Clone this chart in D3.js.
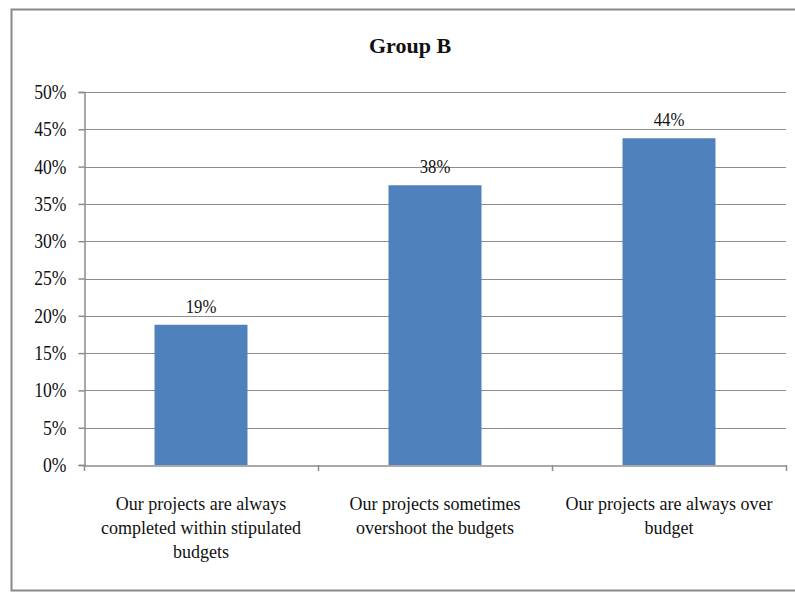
<!DOCTYPE html>
<html>
<head>
<meta charset="utf-8">
<script src="https://cdn.jsdelivr.net/npm/d3@7"></script>
<style>
  body { margin: 0; background: #fff; }
</style>
</head>
<body>
<svg id="chart" width="795" height="592"></svg>
<script>
// data
const categories = [
  "Our projects are always completed within stipulated budgets",
  "Our projects sometimes overshoot the budgets",
  "Our projects are always over budget"
];
const categoryLines = [
  ["Our projects are always", "completed within stipulated", "budgets"],
  ["Our projects sometimes", "overshoot the budgets"],
  ["Our projects are always over", "budget"]
];
const values = [18.8, 37.5, 43.8];
const valueLabels = ["19%", "38%", "44%"];
const yTicks = [0, 5, 10, 15, 20, 25, 30, 35, 40, 45, 50];

const FONT = "'Liberation Serif', 'Times New Roman', Times, 'DejaVu Serif', serif";

const svg = d3.select("#chart");
const width = +svg.attr("width");
const height = +svg.attr("height");

const padding = { top: 92, right: 9, bottom: 127, left: 84 };

// outer frame
svg.append("rect")
  .attr("x", 11.5)
  .attr("y", 9.5)
  .attr("width", 800)
  .attr("height", 581)
  .attr("fill", "none")
  .attr("stroke", "#8a8a8a")
  .attr("stroke-width", 2);

svg.append("text")
  .attr("x", 410)
  .attr("y", 53)
  .attr("text-anchor", "middle")
  .attr("font-family", FONT)
  .attr("font-size", "22px")
  .attr("font-weight", "bold")
  .attr("fill", "#111")
  .text("Group B");

var xBand = d3.scaleBand()
  .domain(categories)
  .range([padding.left, width - padding.right]);

var yScale = d3.scaleLinear()
  .domain([0, 50])
  .range([height - padding.bottom, padding.top]);

// gridlines
svg.append("g")
  .selectAll("line")
  .data(yTicks.filter(d => d > 0))
  .enter()
  .append("line")
  .attr("x1", padding.left)
  .attr("x2", width - padding.right)
  .attr("y1", d => Math.round(yScale(d)) + 0.5)
  .attr("y2", d => Math.round(yScale(d)) + 0.5)
  .attr("stroke", "#8c8c8c")
  .attr("stroke-width", 1.2);

// bars
svg.append("g")
  .selectAll("rect")
  .data(values)
  .enter()
  .append("rect")
  .attr("x", (d, i) => xBand(categories[i]) + xBand.bandwidth() / 2 - 46.5)
  .attr("y", d => yScale(d))
  .attr("width", 93)
  .attr("height", d => yScale(0) - yScale(d))
  .attr("fill", "#4f81bd");

// value labels
svg.append("g")
  .selectAll("text")
  .data(values)
  .enter()
  .append("text")
  .attr("transform", (d, i) => `translate(${xBand(categories[i]) + xBand.bandwidth() / 2},${yScale(d) - 12}) scale(0.88,1)`)
  .attr("text-anchor", "middle")
  .attr("font-family", FONT)
  .attr("font-size", "19px")
  .attr("fill", "#111")
  .text((d, i) => valueLabels[i]);

// y axis
var yAxis = d3.axisLeft(yScale)
  .tickValues(yTicks)
  .tickSize(6)
  .tickPadding(12)
  .tickFormat(d => d + "%");
var yG = svg.append("g")
  .attr("transform", `translate(${padding.left + 0.5},0)`)
  .call(yAxis);
yG.selectAll("text")
  .attr("font-family", FONT)
  .attr("font-size", "20px")
  .attr("fill", "#111")
  .attr("transform", "translate(-18,0) scale(0.88,1) translate(18,0)");
yG.selectAll("line,path").attr("stroke", "#8c8c8c").attr("stroke-width", 1.5);

// x axis
var xAxis = d3.axisBottom(xBand).tickSize(0).tickFormat("");
var xG = svg.append("g")
  .attr("transform", `translate(0,${Math.round(yScale(0)) + 0.5})`)
  .call(xAxis);
xG.select("path").attr("stroke", "#8c8c8c").attr("stroke-width", 1.5);
xG.selectAll(".tick").remove();

// category boundary ticks
svg.append("g")
  .selectAll("line")
  .data([...categories.map(c => xBand(c)), width - padding.right])
  .enter()
  .append("line")
  .attr("x1", d => Math.round(d) + 0.5)
  .attr("x2", d => Math.round(d) + 0.5)
  .attr("y1", yScale(0))
  .attr("y2", yScale(0) + 6)
  .attr("stroke", "#8c8c8c")
  .attr("stroke-width", 1.5);

// category labels
svg.append("g")
  .selectAll("text")
  .data(categoryLines)
  .enter()
  .append("text")
  .attr("text-anchor", "middle")
  .attr("font-family", FONT)
  .attr("font-size", "19.5px")
  .attr("fill", "#111")
  .attr("transform", (d, i) => `translate(${xBand(categories[i]) + xBand.bandwidth() / 2},${height - padding.bottom + 45}) scale(0.925,1)`)
  .selectAll("tspan")
  .data(d => d)
  .enter()
  .append("tspan")
  .attr("x", 0)
  .attr("dy", (d, i) => i === 0 ? 0 : 24)
  .text(d => d);
</script>
</body>
</html>
